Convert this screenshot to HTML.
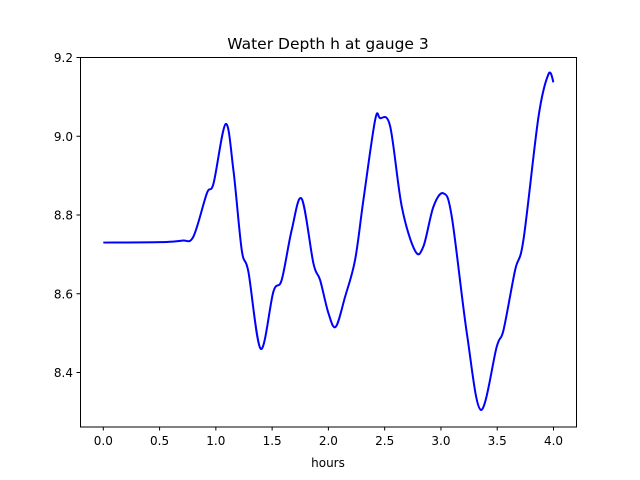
<!DOCTYPE html>
<html><head><meta charset="utf-8"><style>
html,body{margin:0;padding:0;background:#fff;}
svg{display:block;font-family:"DejaVu Sans","Liberation Sans",sans-serif;}
</style></head><body>
<svg id="chart" width="640" height="480" xmlns="http://www.w3.org/2000/svg">
<defs><clipPath id="pc"><rect x="80.5" y="57.5" width="496" height="369.5"/></clipPath></defs>
<rect width="640" height="480" fill="#fff"/>
<text x="328" y="49" font-size="15.5" text-anchor="middle" fill="#000">Water Depth h at gauge 3</text>
<text x="328" y="467" font-size="12" text-anchor="middle" fill="#000">hours</text>
<g id="xt"></g>
<g id="yt"></g>
<path id="line" clip-path="url(#pc)" fill="none" stroke="#0000ff" stroke-width="2"/>
<rect x="80.5" y="57.5" width="496" height="369.5" fill="none" stroke="#000" stroke-width="1"/>
</svg>
<script>
const hours=[0,0.5,0.7,0.8,0.92,0.98,1.087,1.156,1.23,1.289,1.399,1.511,1.585,1.674,1.763,1.867,1.926,2.0,2.065,2.148,2.237,2.311,2.415,2.459,2.548,2.652,2.77,2.844,2.933,3.022,3.096,3.23,3.354,3.496,3.556,3.659,3.733,3.867,3.956,4.0];
const depth=[8.730,8.731,8.735,8.745,8.855,8.881,9.031,8.914,8.711,8.656,8.460,8.605,8.635,8.762,8.841,8.677,8.635,8.551,8.516,8.592,8.686,8.838,9.041,9.046,9.026,8.821,8.709,8.720,8.821,8.855,8.796,8.500,8.305,8.466,8.508,8.660,8.737,9.050,9.158,9.137];
const xTicks=[0,0.5,1,1.5,2,2.5,3,3.5,4];
const xTickLabels=["0.0","0.5","1.0","1.5","2.0","2.5","3.0","3.5","4.0"];
const yTicks=[8.4,8.6,8.8,9.0,9.2];
const yTickLabels=["8.4","8.6","8.8","9.0","9.2"];
const NS="http://www.w3.org/2000/svg";
const X=h=>103.3+h*112.55;
const Y=v=>57.5+(9.2-v)*393.75;
function mk(t,a,p){const e=document.createElementNS(NS,t);for(const k in a)e.setAttribute(k,a[k]);p.appendChild(e);return e;}
const xt=document.getElementById('xt'),yt=document.getElementById('yt');
xTicks.forEach((v,i)=>{
 const l=mk('line',{x1:X(v),x2:X(v),y1:427,y2:430.5,stroke:'#000'},xt);
 
 
 const t=mk('text',{x:X(v),y:445,'font-size':12,'text-anchor':'middle'},xt);
 
 
 t.textContent=xTickLabels[i];
});
yTicks.forEach((v,i)=>{
 const l=mk('line',{x1:76.5,x2:80.5,y1:Y(v),y2:Y(v),stroke:'#000'},yt);
 
 
 const t=mk('text',{x:73,y:Y(v)+4.5,'font-size':12,'text-anchor':'end'},yt);
 
 
 t.textContent=yTickLabels[i];
});
const pts=hours.map((h,i)=>[X(h),Y(depth[i])]);
let d='M'+pts[0][0]+','+pts[0][1];
for(let i=0;i<pts.length-1;i++){
 const p0=pts[Math.max(0,i-1)],p1=pts[i],p2=pts[i+1],p3=pts[Math.min(pts.length-1,i+2)];
 const c1=[p1[0]+(p2[0]-p0[0])/6,p1[1]+(p2[1]-p0[1])/6];
 const c2=[p2[0]-(p3[0]-p1[0])/6,p2[1]-(p3[1]-p1[1])/6];
 d+=' C'+c1+' '+c2+' '+p2;
}
document.getElementById('line').setAttribute('d',d);
</script>
</body></html>
